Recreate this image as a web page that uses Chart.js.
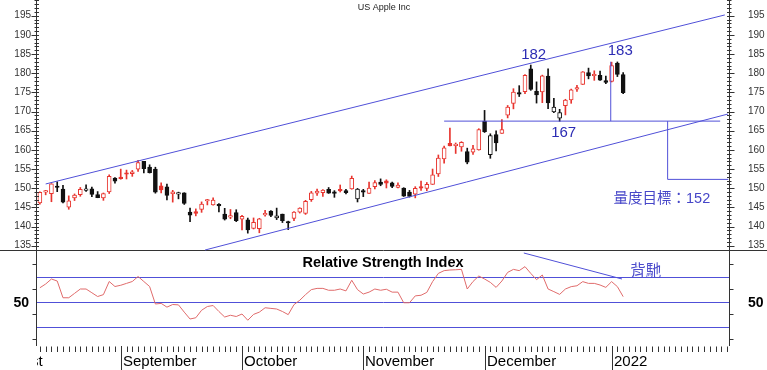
<!DOCTYPE html>
<html>
<head>
<meta charset="utf-8">
<script src="https://cdn.jsdelivr.net/npm/chart.js@4.4.1/dist/chart.umd.min.js"></script>
<style>
html, body { margin: 0; padding: 0; background: #fff; }
#wrap { width: 767px; height: 370px; }
</style>
</head>
<body>
<div id="wrap"><canvas id="myChart" width="767" height="370"></canvas></div>
<script>
// trading days shown (Aug 12 2021 - Jan 5 2022)
const dates = [
  '08-12','08-13','08-16','08-17','08-18','08-19','08-20','08-23','08-24','08-25','08-26','08-27','08-30','08-31',
  '09-01','09-02','09-03','09-07','09-08','09-09','09-10','09-13','09-14','09-15','09-16','09-17','09-20','09-21','09-22','09-23','09-24','09-27','09-28','09-29','09-30',
  '10-01','10-04','10-05','10-06','10-07','10-08','10-11','10-12','10-13','10-14','10-15','10-18','10-19','10-20','10-21','10-22','10-25','10-26','10-27','10-28','10-29',
  '11-01','11-02','11-03','11-04','11-05','11-08','11-09','11-10','11-11','11-12','11-15','11-16','11-17','11-18','11-19','11-22','11-23','11-24','11-26','11-29','11-30',
  '12-01','12-02','12-03','12-06','12-07','12-08','12-09','12-10','12-13','12-14','12-15','12-16','12-17','12-20','12-21','12-22','12-23','12-27','12-28','12-29','12-30','12-31',
  '01-03','01-04','01-05'
];
const futureSlots = 18;

const opens = [
  146.19,148.97,148.54,150.23,149.80,145.03,147.44,148.31,149.45,149.81,148.35,147.48,149.00,152.66,
  152.83,153.87,153.76,154.97,156.98,155.49,155.00,150.63,150.35,148.56,148.44,148.82,143.80,143.93,144.45,146.65,145.66,145.47,143.25,142.47,143.66,
  141.90,141.76,139.49,139.47,143.06,144.03,142.27,143.23,141.24,142.11,143.77,143.45,147.01,148.70,148.81,149.69,148.68,149.33,149.36,149.82,147.22,
  148.99,148.66,150.39,151.58,151.89,151.41,150.20,150.02,148.96,148.43,150.37,149.94,151.00,153.71,157.65,161.68,161.12,160.75,159.57,159.37,159.99,
  167.48,158.74,164.02,164.29,169.08,172.13,174.91,175.21,181.12,175.25,175.11,179.28,169.93,168.28,171.56,173.04,175.85,177.09,180.16,179.33,179.47,178.09,
  177.83,182.63,179.61
];
const highs = [
  149.05,149.44,151.19,151.68,150.72,148.00,148.50,150.19,150.86,150.32,149.12,148.75,153.49,152.80,
  154.98,154.72,154.63,157.26,157.04,156.11,155.48,151.42,151.07,149.44,148.97,148.82,144.84,144.60,146.43,147.08,147.47,145.96,144.75,144.45,144.38,
  142.92,142.21,142.24,142.15,144.22,144.18,144.81,143.25,141.40,143.88,144.90,146.84,149.17,149.75,149.64,150.18,149.37,150.84,149.73,153.17,149.94,
  149.70,151.57,151.97,152.43,152.20,151.57,151.43,150.13,149.43,150.40,151.88,151.49,155.00,158.67,161.02,165.70,161.80,162.14,160.45,161.19,165.52,
  170.30,164.20,164.96,167.88,171.58,175.96,176.75,179.63,182.13,177.74,179.50,181.14,173.47,170.58,173.20,175.86,176.85,180.42,181.33,180.63,180.57,179.23,
  182.88,182.94,180.17
];
const lows = [
  145.84,148.27,146.47,149.09,146.15,144.50,146.78,147.89,149.15,147.80,147.51,146.83,148.61,151.29,
  152.34,152.40,153.09,154.39,153.98,153.95,148.70,148.75,146.91,146.37,147.22,145.76,141.27,142.78,143.70,145.64,145.56,143.82,141.69,142.03,141.28,
  139.11,138.27,139.36,138.37,142.72,142.56,141.81,141.04,139.20,141.51,143.51,143.16,146.55,148.12,147.87,148.64,147.62,149.01,148.49,149.72,146.41,
  147.80,148.65,149.82,150.64,150.06,150.16,150.06,147.85,147.68,147.48,149.43,149.34,150.99,153.05,156.53,161.00,159.06,159.64,156.36,158.79,159.92,
  164.53,157.80,159.72,164.28,168.34,170.70,173.92,174.69,175.53,172.21,172.31,170.75,169.69,167.46,169.12,172.15,175.27,177.07,178.53,178.14,178.09,177.26,
  177.71,179.12,174.64
];
const closes = [
  148.89,149.10,151.12,150.19,146.36,146.70,148.19,149.71,149.62,148.36,147.54,148.60,153.12,151.83,
  152.51,153.65,154.30,156.69,155.11,154.07,148.97,149.55,148.12,149.03,148.79,146.06,142.94,143.43,145.85,146.83,146.92,145.37,141.91,142.83,141.50,
  142.65,139.14,141.11,142.00,143.29,142.90,142.81,141.51,140.91,143.76,144.84,146.55,148.76,149.26,149.48,148.69,148.64,149.32,148.85,152.57,149.80,
  148.96,150.02,151.49,150.96,151.28,150.44,150.81,147.92,147.87,149.99,150.00,151.00,153.49,157.87,160.55,161.02,161.41,161.94,156.81,160.24,165.30,
  164.77,163.76,161.84,165.32,171.18,175.08,174.56,179.45,175.74,174.33,179.30,172.26,171.14,169.75,172.99,175.64,176.28,180.33,179.29,179.38,178.20,177.57,
  182.01,179.70,174.92
];
const prevClose0 = 145.86;

const rsi = [
  61,64,68,66.4,53,53,56.5,60,60,57,54,55.5,66,62,
  63,64.5,66,70,66,62,48,48.5,45.5,47.6,47.3,41.5,36,37,43,46,46.8,42,37.6,39,38,
  40,35,39.7,41.5,45,44.5,44,42,39.5,47.5,51,55.5,59.5,60.5,60.5,59,59,60,58.5,67,59.5,
  56,57.5,60,59,59.8,57.5,57.5,49,49,54.5,55,57.3,65.9,72.5,74.7,75.2,75.4,75.7,60,66,70.4,
  68,65.3,61.3,66.4,73.3,75.7,74.7,77.9,72.5,67.5,71.2,60,57.9,55.7,60,61.9,62.6,65.9,64.5,64.5,63.2,61.3,
  65.9,61.9,53.9
];

const monthNames = ['August', 'September', 'October', 'November', 'December', '2022'];
const monthStarts = [-8, 14, 35, 56, 77, 99];
const priceTicks = [135, 140, 145, 150, 155, 160, 165, 170, 175, 180, 185, 190, 195];
const rsiLevels = [30, 50, 70];
const rsiTicks = [20, 40, 60, 80];

// chart annotations, in (day index, value)
const channelTop = [[1, 151.1], [118.6, 195.2]];
const channelBottom = [[28.6, 133.87], [119.15, 169.35]];
const neckline = [[70, 167.5], [117.8, 167.5]];
const riseLine = [[98.85, 183], [98.85, 167.5]];
const targetLine = [[108.7, 167.5], [108.7, 152.3], [119.2, 152.3]];
const rsiDivergence = [[83.8, 88.8], [100.8, 68]];

const RED = '#e8352f';
const BLACK = '#111';
const BLUE = '#5050d8';
const FONT = "'Liberation Sans', Arial, sans-serif";

const labels = dates.concat(Array(futureSlots).fill(''));
const candleCol = closes.map((c, i) => c >= (i === 0 ? prevClose0 : closes[i - 1]) ? RED : BLACK);
const bodyFill = closes.map((c, i) => c > opens[i] ? '#fff' : candleCol[i]);

const decor = {
  id: 'decor',
  beforeDatasetsDraw(chart) {
    const {ctx, chartArea, scales: {yRsi}} = chart;
    ctx.save();
    ctx.strokeStyle = BLUE;
    ctx.lineWidth = 1;
    rsiLevels.forEach(v => {
      const py = Math.round(yRsi.getPixelForValue(v)) + 0.5;
      ctx.beginPath(); ctx.moveTo(chartArea.left, py); ctx.lineTo(chartArea.right, py); ctx.stroke();
    });
    ctx.restore();
  },
  afterDraw(chart) {
    const {ctx, chartArea, scales: {x, y, yRsi}} = chart;
    const L = chartArea.left - 0.5, R = chartArea.right - 0.5, B = chartArea.bottom;
    const sep = 250.5;
    const seg = (x1, y1, x2, y2) => { ctx.beginPath(); ctx.moveTo(x1, y1); ctx.lineTo(x2, y2); ctx.stroke(); };
    const poly = (pts, sc) => {
      ctx.beginPath();
      pts.forEach((p, k) => {
        const px = x.getPixelForValue(p[0]), py = sc.getPixelForValue(p[1]);
        k ? ctx.lineTo(px, py) : ctx.moveTo(px, py);
      });
      ctx.stroke();
    };
    const text = (s, px, py, font, color, align) => {
      ctx.font = font; ctx.fillStyle = color; ctx.textAlign = align || 'center'; ctx.textBaseline = 'middle';
      ctx.fillText(s, px, py);
    };

    ctx.save();
    // frame
    ctx.strokeStyle = '#333';
    ctx.lineWidth = 1;
    seg(L, 0, L, B);
    seg(R, 0, R, B);
    seg(0, sep, chart.width, sep);

    // price axis ticks
    for (let p = 130; p <= 200; p++) {
      const py = Math.round(y.getPixelForValue(p)) + 0.5;
      if (py < 0 || py > sep - 2) continue;
      const major = p % 5 === 0;
      seg(major ? L - 5 : L - 2, py, L + 2.5, py);
      seg(R - 2.5, py, major ? R + 5 : R + 2, py);
    }
    priceTicks.forEach(p => {
      const py = y.getPixelForValue(p);
      text(String(p), 31, py, '10px ' + FONT, '#333', 'right');
      text(String(p), 748, py, '10px ' + FONT, '#333', 'left');
    });

    // rsi axis ticks
    rsiTicks.forEach(v => {
      const py = Math.round(yRsi.getPixelForValue(v)) + 0.5;
      seg(L - 4, py, L, py);
      seg(R, py, R + 4, py);
    });
    const p50 = yRsi.getPixelForValue(50) + 1.5;
    text('50', 29, p50, 'bold 14px ' + FONT, '#000', 'right');
    text('50', 748, p50, 'bold 14px ' + FONT, '#000', 'left');

    // x axis ticks and months
    for (let i = 0; i < labels.length; i++) {
      const px = Math.round(x.getPixelForValue(i)) + 0.5;
      seg(px, B + 0.5, px, B + 6);
    }
    ctx.save();
    ctx.beginPath(); ctx.rect(chartArea.left, B, chart.width, 30); ctx.clip();
    monthStarts.forEach((m, k) => {
      const px = Math.round(x.getPixelForValue(m)) + 0.5;
      seg(px, B, px, chart.height);
      ctx.font = '15px ' + FONT; ctx.fillStyle = '#000'; ctx.textAlign = 'left'; ctx.textBaseline = 'alphabetic';
      ctx.fillText(monthNames[k], px + 1.5, 366);
    });
    ctx.restore();

    // annotations
    ctx.strokeStyle = BLUE;
    poly(channelTop, y);
    poly(channelBottom, y);
    poly(neckline, y);
    poly(riseLine, y);
    poly(targetLine, y);
    poly(rsiDivergence, yRsi);

    text('182', x.getPixelForValue(85.5), y.getPixelForValue(184.9), '15px ' + FONT, '#2c2cb4');
    text('183', x.getPixelForValue(100.5), y.getPixelForValue(185.9), '15px ' + FONT, '#2c2cb4');
    text('167', x.getPixelForValue(90.7), y.getPixelForValue(164.4), '15px ' + FONT, '#2c2cb4');
    text('量度目標：152', x.getPixelForValue(107.7), y.getPixelForValue(147.2), "14.5px 'Liberation Sans', 'Noto Sans CJK TC', sans-serif", '#4646c8');
    text('背馳', x.getPixelForValue(104.9), yRsi.getPixelForValue(75), "15.5px 'Noto Sans CJK TC', sans-serif", '#4d4dcc');

    text('Relative Strength Index', 383, 263, 'bold 14.5px ' + FONT, '#000');
    text('US Apple Inc', 384, 8, '9px ' + FONT, '#222');
    ctx.restore();
  }
};

let myChart = document.getElementById('myChart').getContext('2d');

let candleChart = new Chart(myChart, {
  type: 'bar',
  data: {
    labels: labels,
    datasets: [{
      label: 'body',
      data: opens.map((o, i) => [o, closes[i]]),
      backgroundColor: bodyFill,
      borderColor: candleCol,
      borderWidth: 1,
      borderSkipped: false,
      barThickness: 4,
      minBarLength: 1.5,
      grouped: false,
      order: 0,
      yAxisID: 'y'
    }, {
      label: 'wick',
      data: lows.map((l, i) => [l, highs[i]]),
      backgroundColor: candleCol,
      borderWidth: 0,
      barThickness: 1,
      grouped: false,
      order: 1,
      yAxisID: 'y'
    }, {
      type: 'line',
      label: 'RSI',
      data: rsi,
      borderColor: '#e06b6b',
      borderWidth: 1,
      pointRadius: 0,
      tension: 0,
      fill: false,
      order: 2,
      yAxisID: 'yRsi'
    }]
  },
  options: {
    responsive: false,
    animation: false,
    layout: { padding: { left: 37, right: 37, top: 0, bottom: 24 } },
    plugins: { legend: { display: false }, tooltip: { enabled: false } },
    scales: {
      x: { type: 'category', offset: true, display: false },
      y: { min: 108.83, max: 199.1, display: false },
      yRsi: { type: 'linear', axis: 'y', min: 14.4, max: 291.2, display: false }
    }
  },
  plugins: [decor]
});
</script>
</body>
</html>
